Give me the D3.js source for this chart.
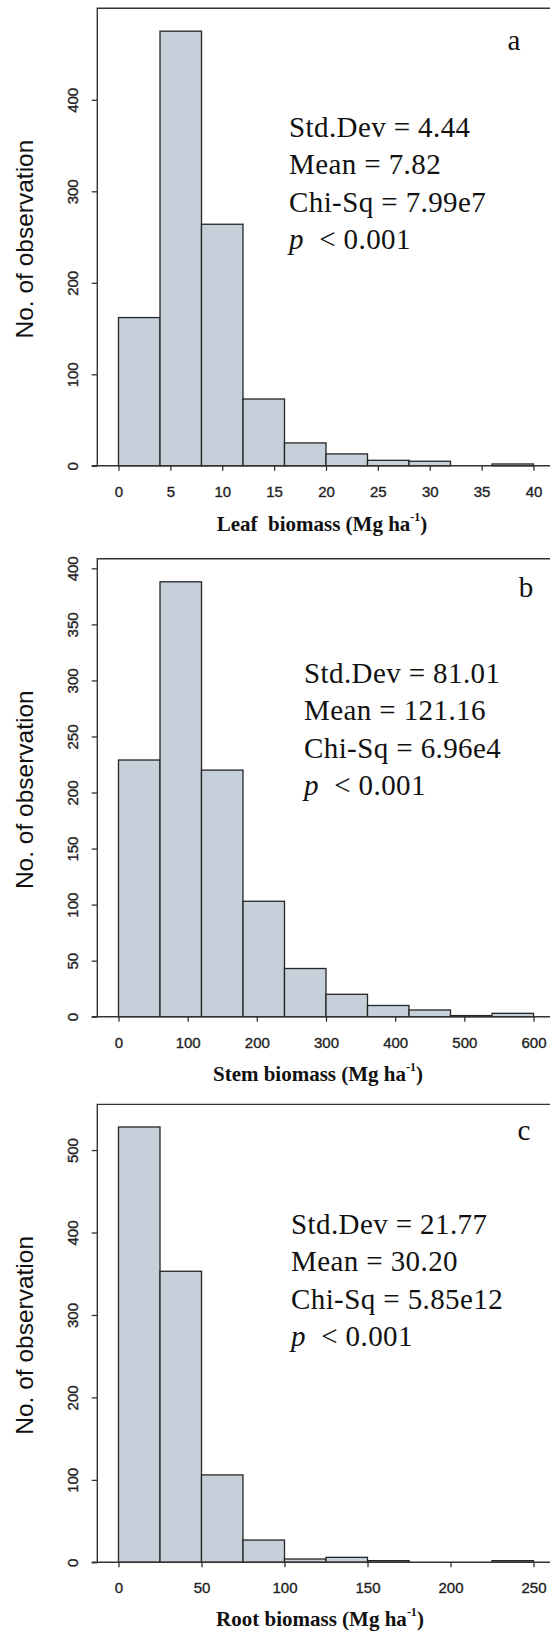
<!DOCTYPE html>
<html><head><meta charset="utf-8">
<script src="https://cdn.jsdelivr.net/npm/d3@7"></script>
<style>
body{margin:0;background:#fff}
svg{display:block}
</style>
</head><body><div id="chart"></div>
<script>
// ---------------- data ----------------
const panelLabels = ["a", "b", "c"];
const xTitleMain = ["Leaf  biomass (Mg ha", "Stem biomass (Mg ha", "Root biomass (Mg ha"];
const binWidths = [4, 60, 25];
const leafCounts = [162, 475, 264, 73, 25, 13, 6, 5, 0, 2];
const stemCounts = [229, 388, 220, 103, 43, 20, 10, 6, 1, 3];
const rootCounts = [528, 353, 106, 27, 4, 6, 2, 0, 0, 2];
const leafXTicks = [0, 5, 10, 15, 20, 25, 30, 35, 40];
const stemXTicks = [0, 100, 200, 300, 400, 500, 600];
const rootXTicks = [0, 50, 100, 150, 200, 250];
const leafYTicks = [0, 100, 200, 300, 400];
const stemYTicks = [0, 50, 100, 150, 200, 250, 300, 350, 400];
const rootYTicks = [0, 100, 200, 300, 400, 500];
const yMaxima = [500, 408.6, 555.4];
const statsStd = ["4.44", "81.01", "21.77"];
const statsMean = ["7.82", "121.16", "30.20"];
const statsChi = ["7.99e7", "6.96e4", "5.85e12"];
const pValue = "0.001";
const yTitle = "No. of observation";

const countsList = [leafCounts, stemCounts, rootCounts];
const xTicksList = [leafXTicks, stemXTicks, rootXTicks];
const yTicksList = [leafYTicks, stemYTicks, rootYTicks];

// ---------------- layout ----------------
const W = 550, H = 1634;
const layout = {
  tops: [8.3, 558.7, 1104.4],
  bottoms: [465.8, 1016.7, 1562.3],
  frameLeft: 97.3, frameRight: 553,
  axisLeft: 91.7,
  x0: 118.5, x1: 533.5,
  statsX: [289, 304, 291],
  statsY: [137, 683, 1234],
  lineGap: 37.3,
  labelX: [514, 526, 524],
  labelY: [50, 597, 1140],
  titleX: [322, 318, 320],
  titleY: [531, 1080.5, 1625.5]
};

const svg = d3.select("#chart").append("svg")
  .attr("width", W).attr("height", H)
  .attr("viewBox", `0 0 ${W} ${H}`);

const sans = "'Liberation Sans', Arial, Helvetica, sans-serif";
const serif = "'Liberation Serif', 'Times New Roman', Times, serif";
const ink = "#222";

for (let i = 0; i < 3; i++) {
  const top = layout.tops[i], bottom = layout.bottoms[i];
  const bw = binWidths[i];
  const counts = countsList[i];
  const x = d3.scaleLinear().domain([0, bw * counts.length]).range([layout.x0, layout.x1]);
  const y = d3.scaleLinear().domain([0, yMaxima[i]]).range([bottom, top]);
  const g = svg.append("g");

  // bars
  g.selectAll("rect.bar").data(counts).join("rect")
    .attr("class", "bar")
    .attr("x", (d, j) => x(j * bw))
    .attr("width", (d, j) => x((j + 1) * bw) - x(j * bw))
    .attr("y", d => y(d))
    .attr("height", d => bottom - y(d))
    .attr("fill", "#c5d0db")
    .attr("stroke", "#252525")
    .attr("stroke-width", 1.3);

  // frame (left, top, right)
  g.append("path")
    .attr("d", `M${layout.frameLeft},${bottom}V${top}H${layout.frameRight}V${bottom}`)
    .attr("fill", "none").attr("stroke", "#333").attr("stroke-width", 1.4);

  // x axis
  const xAxis = g.append("g").attr("transform", `translate(0,${bottom})`)
    .call(d3.axisBottom(x).tickValues(xTicksList[i]).tickSize(5).tickFormat(d3.format("d")));
  xAxis.select(".domain").remove();
  xAxis.selectAll(".tick line").attr("stroke", "#333").attr("stroke-width", 1.3);
  xAxis.selectAll(".tick text").attr("y", 31).attr("dy", 0)
    .attr("font-family", sans).attr("font-size", 15).attr("fill", ink)
    .attr("stroke", ink).attr("stroke-width", 0.35);
  g.append("line").attr("x1", layout.axisLeft).attr("x2", layout.frameRight)
    .attr("y1", bottom).attr("y2", bottom)
    .attr("stroke", "#333").attr("stroke-width", 1.4);

  // y axis
  const yAxis = g.append("g").attr("transform", `translate(${layout.frameLeft},0)`)
    .call(d3.axisLeft(y).tickValues(yTicksList[i]).tickSize(5.6).tickFormat(d3.format("d")));
  yAxis.select(".domain").remove();
  yAxis.selectAll(".tick line").attr("stroke", "#333").attr("stroke-width", 1.3);
  yAxis.selectAll(".tick text")
    .attr("x", 0).attr("y", 0).attr("dy", 0)
    .attr("text-anchor", "middle")
    .attr("transform", "translate(-19.5,0) rotate(-90)")
    .attr("font-family", sans).attr("font-size", 15).attr("fill", ink)
    .attr("stroke", ink).attr("stroke-width", 0.35);

  // y title
  g.append("text")
    .attr("transform", `translate(33,${(top + bottom) / 2 + 2}) rotate(-90)`)
    .attr("text-anchor", "middle")
    .attr("font-family", sans).attr("font-size", 24.5).attr("fill", "#111")
    .text(yTitle);

  // x title
  const xt = g.append("text")
    .attr("x", layout.titleX[i]).attr("y", layout.titleY[i])
    .attr("text-anchor", "middle")
    .attr("font-family", serif).attr("font-weight", "bold").attr("font-size", 21)
    .attr("fill", "#111").style("white-space", "pre");
  xt.append("tspan").text(xTitleMain[i]);
  xt.append("tspan").attr("font-size", 12).attr("dy", -10).text("-1");
  xt.append("tspan").attr("dy", 10).text(")");

  // panel label
  g.append("text")
    .attr("x", layout.labelX[i]).attr("y", layout.labelY[i])
    .attr("text-anchor", "middle")
    .attr("font-family", serif).attr("font-size", 29).attr("fill", "#111")
    .text(panelLabels[i]);

  // stats
  const lines = [`Std.Dev = ${statsStd[i]}`, `Mean = ${statsMean[i]}`, `Chi-Sq = ${statsChi[i]}`];
  lines.forEach((t, k) => {
    g.append("text")
      .attr("x", layout.statsX[i]).attr("y", layout.statsY[i] + k * layout.lineGap)
      .attr("font-family", serif).attr("font-size", 29).attr("letter-spacing", 0.4)
      .attr("fill", "#111").style("white-space", "pre")
      .text(t);
  });
  const pt = g.append("text")
    .attr("x", layout.statsX[i]).attr("y", layout.statsY[i] + 3 * layout.lineGap)
    .attr("font-family", serif).attr("font-size", 29).attr("letter-spacing", 0.4)
    .attr("fill", "#111").style("white-space", "pre");
  pt.append("tspan").attr("font-style", "italic").text("p");
  pt.append("tspan").text(`  < ${pValue}`);
}
</script>
</body></html>
